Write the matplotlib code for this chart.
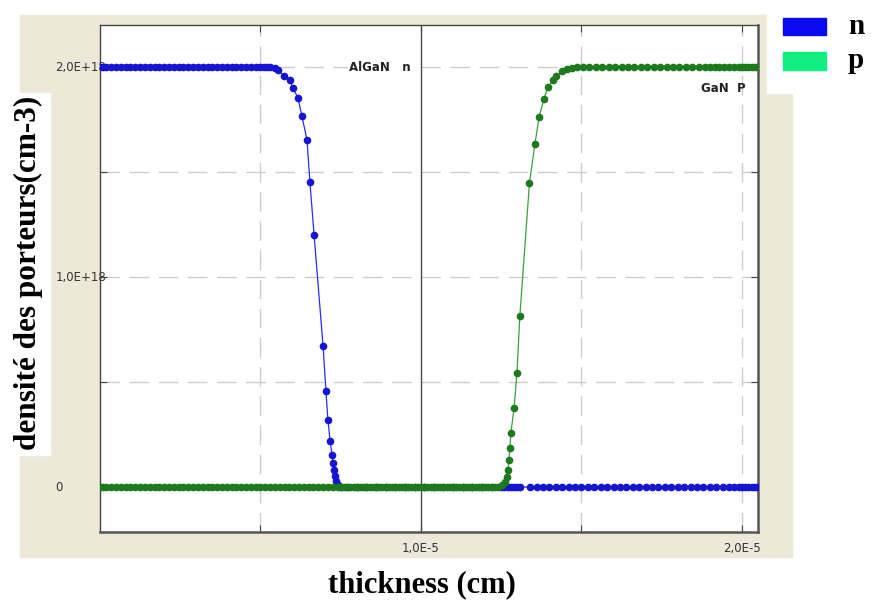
import matplotlib
matplotlib.use('Agg')
import matplotlib.pyplot as plt
from matplotlib.patches import Rectangle

# thickness in units of 1e-5 cm, densities in units of 1e18 cm-3
N_HIGH = 2.0
P_HIGH = 2.0
LOW = 0.0

n_x_top = [0.0, 0.01, 0.02, 0.035, 0.05, 0.065, 0.08, 0.095, 0.11, 0.125,
           0.14, 0.155, 0.17, 0.185, 0.2, 0.215, 0.23, 0.245, 0.26, 0.275,
           0.29, 0.305, 0.32, 0.335, 0.35, 0.365, 0.38, 0.395, 0.41, 0.425,
           0.44, 0.455, 0.47, 0.485, 0.5, 0.51, 0.52]
n_x_fall = [0.53, 0.545, 0.555, 0.573, 0.592, 0.601, 0.617, 0.629, 0.645,
            0.654, 0.667, 0.695, 0.704, 0.71, 0.717, 0.723, 0.726, 0.729,
            0.732, 0.735, 0.741, 0.751]
n_y_fall = [2.0, 1.995, 1.986, 1.957, 1.938, 1.9, 1.852, 1.767, 1.652,
            1.452, 1.2, 0.671, 0.457, 0.319, 0.219, 0.152, 0.114, 0.081,
            0.052, 0.029, 0.01, 0.0]
n_x_zero = [0.77, 0.8, 0.83, 0.86, 0.89, 0.92, 0.95, 0.98, 1.01, 1.04,
            1.07, 1.1, 1.13, 1.16, 1.19, 1.22, 1.25, 1.26, 1.27, 1.28, 1.29,
            1.3, 1.31, 1.34, 1.36, 1.38, 1.4, 1.42, 1.44, 1.46, 1.48, 1.5,
            1.52, 1.54, 1.56, 1.58, 1.6, 1.62, 1.64, 1.66, 1.68, 1.7, 1.72,
            1.74, 1.76, 1.78, 1.8, 1.82, 1.84, 1.86, 1.88, 1.9, 1.92, 1.94,
            1.96, 1.975, 1.99, 2.0, 2.01, 2.02, 2.03, 2.04, 2.05]

p_x_zero = [0.0, 0.01, 0.02, 0.035, 0.05, 0.065, 0.08, 0.095, 0.11, 0.125,
            0.14, 0.155, 0.17, 0.185, 0.2, 0.215, 0.23, 0.245, 0.26, 0.275,
            0.29, 0.305, 0.32, 0.335, 0.35, 0.365, 0.38, 0.395, 0.41, 0.425,
            0.44, 0.455, 0.47, 0.485, 0.5, 0.515, 0.53, 0.545, 0.56, 0.575,
            0.59, 0.605, 0.62, 0.635, 0.65, 0.665, 0.68, 0.695, 0.71, 0.725,
            0.74, 0.75, 0.76, 0.77, 0.78, 0.79, 0.8, 0.81, 0.82, 0.83, 0.84,
            0.85, 0.86, 0.87, 0.88, 0.89, 0.9, 0.91, 0.92, 0.93, 0.94, 0.95,
            0.96, 0.97, 0.98, 0.99, 1.0, 1.01, 1.02, 1.03, 1.04, 1.05, 1.06,
            1.07, 1.08, 1.09, 1.1, 1.11, 1.12, 1.13, 1.14, 1.15, 1.16, 1.17,
            1.18, 1.19, 1.2, 1.21, 1.22, 1.23]
p_x_rise = [1.24, 1.252, 1.262, 1.268, 1.271, 1.274, 1.277, 1.28, 1.29,
            1.299, 1.308, 1.338, 1.355, 1.368, 1.383, 1.396, 1.411, 1.421,
            1.439, 1.455, 1.47, 1.486]
p_y_rise = [0.0, 0.01, 0.024, 0.048, 0.081, 0.129, 0.186, 0.257, 0.376,
            0.543, 0.814, 1.448, 1.633, 1.762, 1.848, 1.905, 1.938, 1.957,
            1.981, 1.99, 1.997, 2.0]
p_x_top = [1.505, 1.525, 1.545, 1.565, 1.585, 1.605, 1.625, 1.645, 1.665,
           1.685, 1.705, 1.725, 1.745, 1.765, 1.785, 1.805, 1.825, 1.845,
           1.865, 1.885, 1.9, 1.915, 1.93, 1.945, 1.96, 1.975, 1.99, 2.0,
           2.01, 2.02, 2.03, 2.04, 2.05]

n_x = n_x_top + n_x_fall + n_x_zero
n_y = [N_HIGH] * len(n_x_top) + n_y_fall + [LOW] * len(n_x_zero)
p_x = p_x_zero + p_x_rise + p_x_top
p_y = [LOW] * len(p_x_zero) + p_y_rise + [P_HIGH] * len(p_x_top)

grid_x = [0.5, 1.5, 2.0]
grid_y = [0.5, 1.0, 1.5, 2.0]
interface_x = 1.0
y_labels = {0.0: '0', 1.0: '1,0E+18', 2.0: '2,0E+18'}

W, H = 875, 605


def fx(px):
    return px / W


def fy(py):
    return 1 - py / H


fig = plt.figure(figsize=(8.75, 6.05), dpi=100)
fig.patch.set_facecolor('white')

# beige panel and the white cut-outs
fig.patches.append(Rectangle((fx(20), fy(557)), (792 - 20) / W, (557 - 15) / H,
                             transform=fig.transFigure, color='#ECE9D8',
                             zorder=0))
fig.patches.append(Rectangle((fx(767), fy(93)), (W - 767) / W, 93 / H,
                             transform=fig.transFigure, color='white',
                             zorder=0.5))
fig.patches.append(Rectangle((fx(0), fy(455)), 50 / W, (455 - 93) / H,
                             transform=fig.transFigure, color='white',
                             zorder=0.5))

ax = fig.add_axes([fx(100), fy(532), (758 - 100) / W, (532 - 25) / H])
ax.set_zorder(1)
ax.set_facecolor('white')

for g in grid_x:
    ax.axvline(g, color='#cccccc', lw=1, dashes=(14, 7), zorder=1)
for g in grid_y:
    ax.axhline(g, color='#cccccc', lw=1, dashes=(14, 7), zorder=1)
ax.axvline(interface_x, color='#4a4a4a', lw=1, zorder=1.5)

ax.plot(n_x, n_y, color='#2a2aff', lw=0.9, marker='o', ms=4.5,
        mfc='#1414d2', mec='#1414d2', zorder=3)
ax.plot(p_x, p_y, color='#3f9f3f', lw=0.9, marker='o', ms=4.5,
        mfc='#1c7a1c', mec='#1c7a1c', zorder=4)

ax.set_xlim(0, 2.05)
ax.set_ylim(-0.214, 2.2)

ax.set_xticks([0.5, 1.0, 1.5, 2.0])
ax.set_xticklabels(['', '1,0E-5', '', '2,0E-5'], fontsize=8.5,
                   color='#333333')
ax.set_yticks(grid_y)
ax.set_yticklabels([])
ax.tick_params(direction='in', length=5, color='#444444', top=True,
               right=True, pad=7)
for v, lab in y_labels.items():
    ax.text(-0.068, v, lab, transform=ax.get_yaxis_transform(),
            ha='left', va='center', fontsize=8.5, color='#333333',
            clip_on=False, zorder=2)

for side in ['left', 'top']:
    ax.spines[side].set_color('#444444')
    ax.spines[side].set_linewidth(1)
for side in ['right', 'bottom']:
    ax.spines[side].set_color('#555555')
    ax.spines[side].set_linewidth(1.8)

ax.text(0.872, 2.0, 'AlGaN   n', ha='center', va='center', fontsize=8.5,
        fontweight='bold', color='#222222', zorder=5,
        bbox=dict(facecolor='white', edgecolor='none', pad=1))
ax.text(2.012, 1.9, 'GaN  P', ha='right', va='center', fontsize=8.5,
        fontweight='bold', color='#222222', zorder=5)

serif = 'Liberation Serif'
fig.text(fx(422), fy(585), 'thickness (cm)', ha='center', va='center',
         fontsize=22, fontweight='bold', family=serif)
fig.text(fx(28), fy(273), 'densité des porteurs(cm-3)', rotation=90,
         ha='center', va='center', fontsize=22.5, fontweight='bold',
         family=serif)

# legend outside the frame
fig.patches.append(Rectangle((fx(783), fy(35)), 43 / W, 17 / H,
                             transform=fig.transFigure, color='#0a0af0',
                             zorder=2))
fig.patches.append(Rectangle((fx(783), fy(70)), 43 / W, 18 / H,
                             transform=fig.transFigure, color='#10f080',
                             zorder=2))
fig.text(fx(856), fy(27), 'n', ha='center', va='center', fontsize=21,
         fontweight='bold', family=serif)
fig.text(fx(856), fy(60), 'p', ha='center', va='center', fontsize=21,
         fontweight='bold', family=serif)

fig.savefig('out.png', dpi=100)
